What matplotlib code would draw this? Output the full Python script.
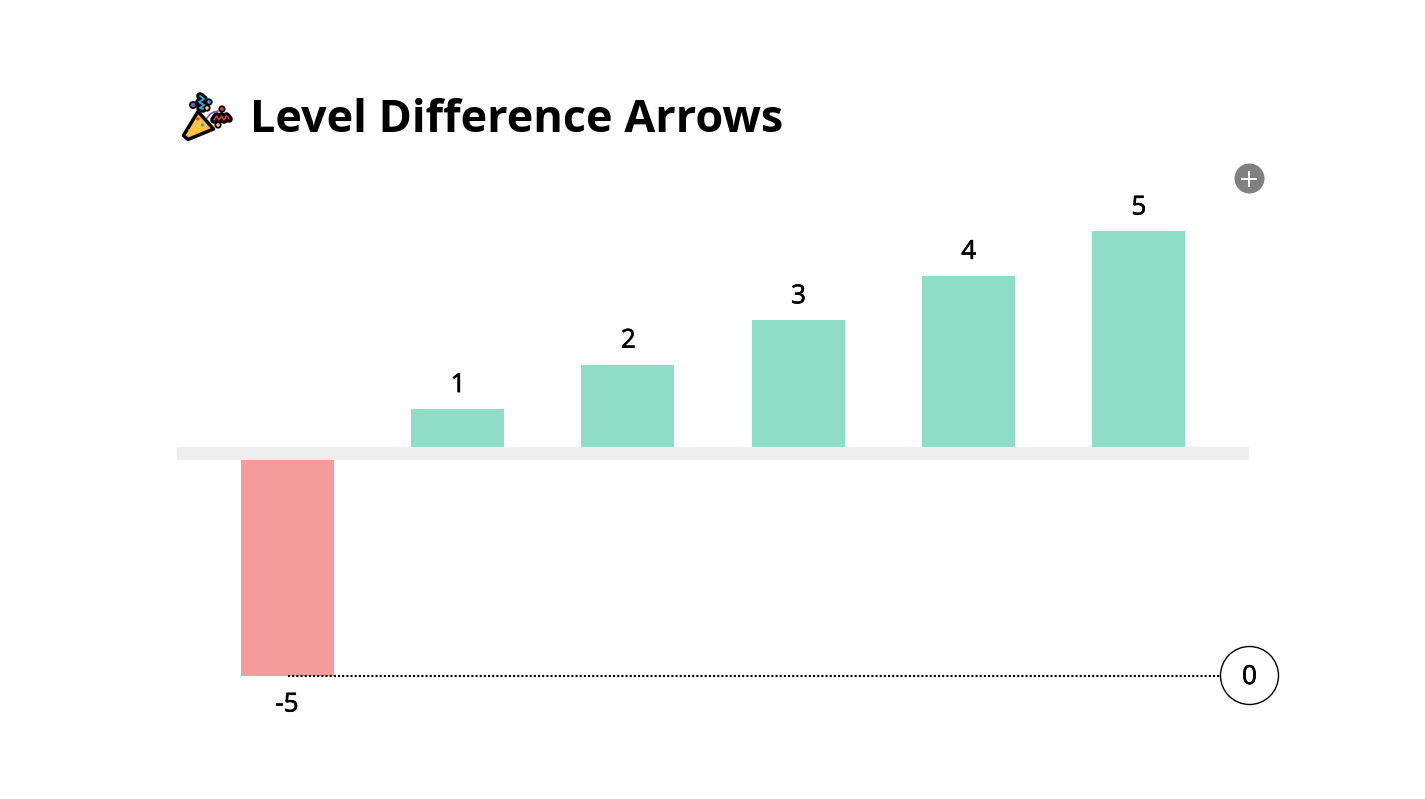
import matplotlib
matplotlib.use('Agg')
import matplotlib.pyplot as plt
import matplotlib.patheffects as pe
from matplotlib.patches import Polygon, Circle

categories = ['a', 'b', 'c', 'd', 'e', 'f']
values = [-5, 1, 2, 3, 4, 5]
reference_label = '0'
title = 'Level Difference Arrows'

POS = '#8fdcc7'
NEG = '#f49c9c'
BAND = '#eeeeee'
BG = '#fefefe'
FONT = ['Open Sans', 'DejaVu Sans']
W, H = 1425, 799
unit = 44.4
band_half = 6.5 / unit
px = 1 / 170.2

fig = plt.figure(figsize=(W / 100, H / 100), dpi=100, facecolor=BG)
L, R, T, B = 177, 1249, 160, 740
ax = fig.add_axes([L / W, 1 - B / H, (R - L) / W, (B - T) / H])
ax.set_facecolor('none')
ax.set_ylim(-(B - 453.5) / unit, (453.5 - T) / unit)
ax.set_xlim(-110.5 / 170.2, 5 + 110.5 / 170.2)
ax.axis('off')

xs = list(range(len(categories)))
effects = [pe.withStroke(linewidth=0.45, foreground='black')]
label_style = dict(ha='center', va='center', fontsize=18.8, family=FONT, weight='normal',
                   color='black', path_effects=effects)
for x, v in zip(xs, values):
    ax.bar(x, v, width=93 / 170.2, color=POS if v >= 0 else NEG, linewidth=0, zorder=2)
    offset = 0.53 if v >= 0 else -0.665
    shift = 0.4 * px if v >= 0 else -0.6 * px
    ax.text(x + shift, v + offset, str(v), **label_style)

ax.axhspan(-band_half, band_half, color=BAND, linewidth=0, zorder=3)

ymin = min(values)
right = ax.get_xlim()[1]
ax.plot([xs[0], right], [ymin, ymin], color='black', lw=1.5,
        linestyle=(0, (1, 1)), zorder=3)
ax.scatter([right - 0.1 * px], [ymin + 0.6 / unit], s=(58 * 0.72) ** 2, facecolor='white',
           edgecolor='black', linewidth=1, zorder=4, clip_on=False)
ax.text(right + 0.5 * px, ymin - 0.045, reference_label, zorder=5, **label_style)

ov = fig.add_axes([0, 0, 1, 1], facecolor='none')
ov.set_xlim(0, W)
ov.set_ylim(H, 0)
ov.axis('off')
ov.text(250, 120, title, fontsize=32.4, family=FONT, weight='bold', color='black',
        ha='left', va='center')

# plus button
ov.add_patch(Circle((1249.5, 178.5), 15, color='#808080', lw=0))
ov.plot([1242.5, 1256.5], [178.5, 178.5], color='white', lw=1.4)
ov.plot([1249.5, 1249.5], [171.5, 185.5], color='white', lw=1.4)

# party popper icon
ov.add_patch(Polygon([(183.5, 135.5), (198, 111.5), (213.5, 129), (188, 139.5)], closed=True,
                     facecolor='#fcc43e', edgecolor='black', lw=2.5, joinstyle='round', zorder=5))
ov.plot([207, 210, 214, 218], [118, 114, 112, 111], color='#7e57c2', lw=1.2, zorder=4)
bx = [200, 204, 199, 204, 200, 203]
by = [96, 99, 102, 105, 108, 109]
ov.plot(bx, by, color='black', lw=5.5, solid_capstyle='round', zorder=2)
ov.plot(bx, by, color='#29a9d8', lw=1.4, solid_capstyle='round', zorder=3)
rx = [214, 216.5, 219, 221.5, 224, 226.5, 229]
ry = [120, 116, 120, 116, 120, 116, 119]
ov.plot(rx, ry, color='black', lw=5.5, solid_capstyle='round', zorder=2)
ov.plot(rx, ry, color='#e53935', lw=1.1, solid_capstyle='round', zorder=3)
for (cx, cy, c, r) in [(193, 105, '#7e57c2', 2.2), (209, 102, '#29a9d8', 1.8), (207, 108, '#fcc43e', 1.8),
                       (222, 109, '#e53935', 1.8), (218, 125, '#fcc43e', 1.8)]:
    ov.add_patch(Circle((cx, cy), r + 1.8, color='black', lw=0, zorder=2.5))
    ov.add_patch(Circle((cx, cy), r, color=c, lw=0, zorder=4))
ov.add_patch(Circle((198, 119), 1.6, color='#e53935', lw=0, zorder=6))
ov.add_patch(Circle((202.5, 125), 1.6, color='#29a9d8', lw=0, zorder=6))
ov.add_patch(Circle((189.5, 130), 1.2, color='#f0a030', lw=0, zorder=6))

fig.savefig('out.png', dpi=100, facecolor=BG)
